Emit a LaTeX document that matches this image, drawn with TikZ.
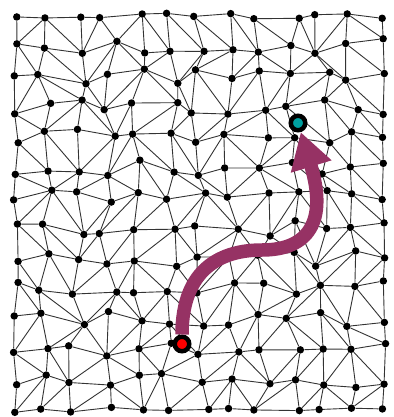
\documentclass[tikz,border=0pt]{standalone}
\usetikzlibrary{arrows.meta}
\definecolor{routecol}{RGB}{150,50,100}
\definecolor{goalcol}{RGB}{0,160,160}
\begin{document}
\begin{tikzpicture}[x=1pt, y=-1pt, >=latex,
          dot/.style={circle, fill=black, inner sep=0pt, minimum size=7.5pt},
          edge/.style={black!80, line width=0.9pt},
          mark dot/.style={circle, draw=black, line width=4.5pt, inner sep=0pt, minimum size=14.5pt},
          route/.style={routecol, line width=13.5pt, -{Triangle[width=40pt, length=36pt]}}]
        \useasboundingbox (0,0) rectangle (393,417);
        \pgfmathsetseed{4242}
        % jittered grid of mesh points
        \foreach \j in {0,...,13}{
          \foreach \i in {0,...,12}{
            \pgfmathsetmacro\dx{(\i==0 || \i==12) ? 2.5*rand : 9*rand}
            \pgfmathsetmacro\dy{(\j==0 || \j==13) ? 3*rand : 8*rand}
            \node[dot] (p-\i-\j) at ({16+30.7*\i+\dx},{16+30.3*\j+\dy}) {};
          }
        }
        % horizontal and vertical edges
        \foreach \j in {0,...,13}{
          \foreach \i [evaluate=\i as \k using int(\i+1)] in {0,...,11}{
            \draw[edge] (p-\i-\j) -- (p-\k-\j);
          }
        }
        \foreach \j [evaluate=\j as \m using int(\j+1)] in {0,...,12}{
          \foreach \i in {0,...,12}{
            \draw[edge] (p-\i-\j) -- (p-\i-\m);
          }
        }
        % one diagonal per cell
        \foreach \j [evaluate=\j as \m using int(\j+1)] in {0,...,12}{
          \foreach \i [evaluate=\i as \k using int(\i+1)] in {0,...,11}{
            \pgfmathtruncatemacro\flip{rand>0 ? 1 : 0}
            \ifnum\flip=1
              \draw[edge] (p-\i-\j) -- (p-\k-\m);
            \else
              \draw[edge] (p-\k-\j) -- (p-\i-\m);
            \fi
          }
        }
        \node[mark dot, fill=red] (start) at (182,344) {};
        \node[mark dot, fill=goalcol] (goal) at (298,123) {};
        \draw[route] (start) .. controls (182,268) and (222,250) .. (262,250)
          .. controls (308,250) and (328,222) .. (goal);
      \end{tikzpicture}
\end{document}
